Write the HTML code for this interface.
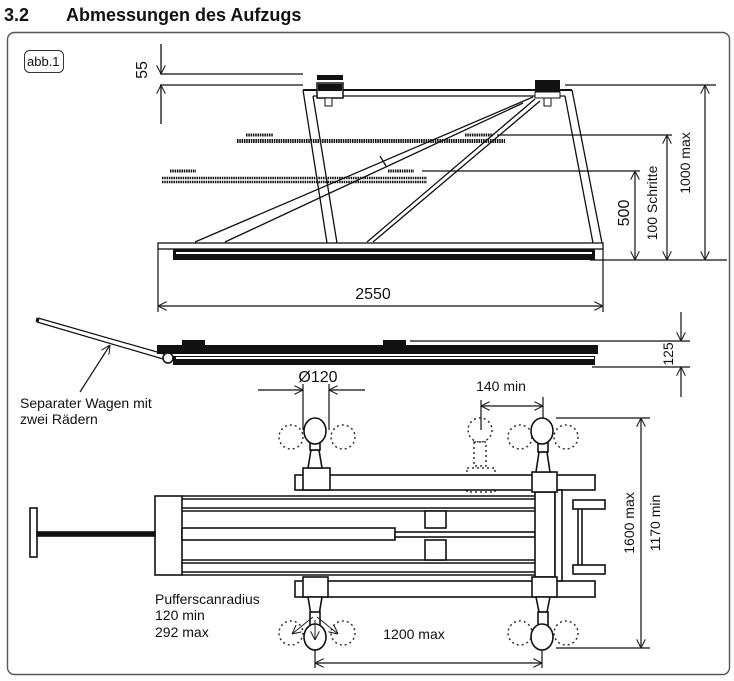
<!DOCTYPE html>
<html><head><meta charset="utf-8"><style>
html,body{margin:0;padding:0;background:#fff;}
svg{display:block;}
text{font-family:"Liberation Sans",Arial,sans-serif;fill:#111;}
</style></head><body>
<svg width="734" height="681" viewBox="0 0 734 681" xmlns="http://www.w3.org/2000/svg">
<defs>
<marker id="a" viewBox="0 0 10 10" refX="10" refY="5" markerWidth="9" markerHeight="9" orient="auto-start-reverse" markerUnits="userSpaceOnUse"><path d="M0,0 L10,5 L0,10" fill="none" stroke="#222" stroke-width="1.2"/></marker>
</defs>
<text x="4" y="21" font-size="18" font-weight="bold">3.2</text>
<text x="66" y="21" font-size="18" font-weight="bold">Abmessungen des Aufzugs</text>
<rect x="7.5" y="32.5" width="722" height="642" rx="7" fill="none" stroke="#555" stroke-width="1.4"/>
<rect x="24.5" y="50.5" width="39" height="22" rx="5" fill="none" stroke="#333"/>
<text x="27" y="66" font-size="13">abb.1</text>

<g stroke="#111" fill="none" stroke-width="1.3">
<line x1="160" y1="74" x2="303" y2="74"/>
<line x1="160" y1="85" x2="303" y2="85"/>
<line x1="161" y1="44" x2="161" y2="74" marker-end="url(#a)"/>
<line x1="161" y1="124" x2="161" y2="85" marker-end="url(#a)"/>
<line x1="303" y1="90" x2="572" y2="90" stroke-width="2"/>
<line x1="313" y1="96" x2="565" y2="96"/>
<line x1="303" y1="90" x2="327" y2="243"/>
<line x1="313" y1="96" x2="337" y2="243"/>
<line x1="572" y1="90" x2="602" y2="243"/>
<line x1="565" y1="96" x2="593" y2="243"/>
<line x1="533" y1="97" x2="195" y2="242"/>
<line x1="523" y1="103" x2="225" y2="242"/>
<line x1="535" y1="99" x2="367" y2="242"/>
<line x1="540" y1="101" x2="373" y2="242"/>
<line x1="380" y1="156" x2="386" y2="166"/>
<rect x="158" y="243" width="445" height="6"/>
</g>
<rect x="173" y="249" width="422" height="11" fill="#111"/>
<rect x="176" y="252" width="416" height="2" fill="#fff"/>
<rect x="317" y="75" width="26" height="5" fill="#111"/>
<rect x="317" y="83" width="26" height="15" fill="#fff" stroke="#111" stroke-width="1.5"/>
<rect x="318" y="84" width="24" height="7" fill="#111"/>
<rect x="325" y="98" width="7" height="8" fill="#fff" stroke="#111"/>
<rect x="535" y="80" width="25" height="12" fill="#111"/>
<rect x="535" y="92" width="25" height="6" fill="#fff" stroke="#111"/>
<rect x="544" y="98" width="7" height="8" fill="#fff" stroke="#111"/>
<g stroke="#111" stroke-dasharray="1.5 0.8" fill="none">
<line x1="237" y1="141" x2="505" y2="141" stroke-width="4"/>
<line x1="246" y1="135" x2="273" y2="135" stroke-width="3"/>
<line x1="465" y1="135" x2="493" y2="135" stroke-width="3"/>
<line x1="162" y1="178" x2="427" y2="178" stroke-width="2.5"/>
<line x1="162" y1="182" x2="427" y2="182" stroke-width="2.5"/>
<line x1="170" y1="171" x2="196" y2="171" stroke-width="3"/>
<line x1="388" y1="171" x2="414" y2="171" stroke-width="3"/>
</g>
<g stroke="#111" fill="none" stroke-width="1.2">
<line x1="497" y1="135" x2="672" y2="135"/>
<line x1="422" y1="171" x2="640" y2="171"/>
<line x1="565" y1="85" x2="716" y2="85"/>
<line x1="590" y1="260" x2="727" y2="260"/>
<line x1="635" y1="171" x2="635" y2="260" marker-start="url(#a)" marker-end="url(#a)"/>
<line x1="667" y1="135" x2="667" y2="260" marker-start="url(#a)" marker-end="url(#a)"/>
<line x1="705" y1="85" x2="705" y2="260" marker-start="url(#a)" marker-end="url(#a)"/>
<line x1="158" y1="249" x2="158" y2="312"/>
<line x1="603" y1="249" x2="603" y2="312"/>
<line x1="158" y1="306" x2="603" y2="306" marker-start="url(#a)" marker-end="url(#a)"/>
</g>
<text transform="translate(142,70) rotate(-90)" font-size="16" text-anchor="middle" dy="5">55</text>
<text transform="translate(624,213) rotate(-90)" font-size="16" text-anchor="middle" dy="5">500</text>
<text transform="translate(652,203) rotate(-90)" font-size="14" text-anchor="middle" dy="5">100 Schritte</text>
<text transform="translate(685,163) rotate(-90)" font-size="14" text-anchor="middle" dy="5">1000 max</text>
<text x="373" y="299" font-size="16" text-anchor="middle">2550</text>

<rect x="157" y="345" width="441" height="9" fill="#111"/>
<rect x="173" y="356" width="422" height="9" fill="#111"/>
<rect x="176" y="357" width="418" height="2" fill="#fff"/>
<rect x="182" y="340" width="23" height="6" fill="#111"/>
<rect x="383" y="340" width="23" height="6" fill="#111"/>
<g stroke="#111" fill="none" stroke-width="1.2">
<line x1="38" y1="318" x2="164" y2="354"/>
<line x1="37" y1="322" x2="163" y2="359"/>
<line x1="38" y1="318" x2="37" y2="322" stroke-width="3"/>
<circle cx="168" cy="358" r="5" fill="#fff" stroke-width="1.5"/>
<line x1="80" y1="392" x2="110" y2="345" marker-end="url(#a)"/>
<line x1="410" y1="341" x2="690" y2="341"/>
<line x1="592" y1="367" x2="690" y2="367"/>
<line x1="681" y1="312" x2="681" y2="341" marker-end="url(#a)"/>
<line x1="681" y1="397" x2="681" y2="367" marker-end="url(#a)"/>
</g>
<text transform="translate(668,354) rotate(-90)" font-size="14" text-anchor="middle" dy="5">125</text>
<text x="20" y="408" font-size="14">Separater Wagen mit</text>
<text x="20" y="424" font-size="14">zwei Rädern</text>

<text x="318" y="382" font-size="16" text-anchor="middle">Ø120</text>
<text x="501" y="391" font-size="14" text-anchor="middle">140 min</text>
<g stroke="#111" fill="none" stroke-width="1.2">
<line x1="258" y1="390" x2="303" y2="390" marker-end="url(#a)"/>
<line x1="365" y1="390" x2="329" y2="390" marker-end="url(#a)"/>
<line x1="303" y1="384" x2="303" y2="430"/>
<line x1="329" y1="384" x2="329" y2="430"/>
<line x1="481" y1="400" x2="481" y2="430"/>
<line x1="543" y1="397" x2="543" y2="420"/>
<line x1="481" y1="406" x2="543" y2="406" marker-start="url(#a)" marker-end="url(#a)"/>
<line x1="556" y1="418" x2="650" y2="418"/>
<line x1="556" y1="648" x2="650" y2="648"/>
<line x1="641" y1="418" x2="641" y2="648" marker-start="url(#a)" marker-end="url(#a)"/>
<line x1="315" y1="650" x2="315" y2="668"/>
<line x1="542" y1="650" x2="542" y2="668"/>
<line x1="315" y1="663" x2="542" y2="663" marker-start="url(#a)" marker-end="url(#a)"/>
</g>
<g stroke="#333" fill="none" stroke-width="1.5" stroke-dasharray="2 3">
<circle cx="291" cy="437" r="12"/><circle cx="343" cy="437" r="12"/>
<circle cx="520" cy="437" r="12"/><circle cx="566" cy="437" r="12"/>
<circle cx="480" cy="430" r="12"/>
<circle cx="291" cy="633" r="12"/><circle cx="343" cy="633" r="12"/>
<circle cx="520" cy="633" r="12"/><circle cx="566" cy="633" r="12"/>
<rect x="474" y="442" width="12" height="24"/>
<rect x="467" y="468" width="28" height="24"/>
</g>
<g stroke="#111" fill="#fff" stroke-width="1.6">
<rect x="295" y="475" width="300" height="15"/>
<rect x="295" y="581" width="300" height="16"/>
<rect x="155" y="496" width="27" height="79"/>
<line x1="182" y1="496" x2="535" y2="496"/>
<line x1="182" y1="499" x2="535" y2="499"/>
<line x1="182" y1="508" x2="535" y2="508"/>
<line x1="182" y1="511" x2="535" y2="511"/>
<rect x="182" y="528" width="213" height="12"/>
<rect x="395" y="532" width="140" height="5"/>
<line x1="182" y1="560" x2="535" y2="560"/>
<line x1="182" y1="563" x2="535" y2="563"/>
<line x1="182" y1="572" x2="535" y2="572"/>
<line x1="182" y1="575" x2="535" y2="575"/>
<rect x="425" y="511" width="21" height="17"/>
<rect x="425" y="540" width="21" height="20"/>
<rect x="30" y="508" width="7" height="49"/>
<rect x="37" y="532" width="118" height="4" fill="#111"/>
<rect x="535" y="492" width="20" height="85"/>
<rect x="555" y="490" width="7" height="91"/>
<rect x="578" y="505" width="4" height="64"/>
<rect x="573" y="500" width="32" height="9"/>
<rect x="573" y="565" width="32" height="9"/>
<rect x="303" y="468" width="27" height="22"/>
<rect x="532" y="472" width="25" height="20"/>
<rect x="303" y="577" width="25" height="20"/>
<rect x="532" y="577" width="25" height="20"/>
<path d="M308,468 L311,450 L319,450 L322,468 Z"/>
<rect x="310" y="440" width="10" height="10"/>
<path d="M536,472 L539,452 L547,452 L550,472 Z"/>
<rect x="538" y="440" width="10" height="12"/>
<path d="M308,597 L311,615 L319,615 L322,597 Z"/>
<rect x="310" y="612" width="10" height="14"/>
<path d="M536,597 L539,612 L547,612 L550,597 Z"/>
<rect x="538" y="612" width="10" height="14"/>
<ellipse cx="315" cy="431" rx="11" ry="13"/>
<ellipse cx="542" cy="431" rx="11" ry="13"/>
<ellipse cx="315" cy="637" rx="11" ry="13"/>
<ellipse cx="542" cy="637" rx="11" ry="13"/>
</g>
<g stroke="#222" fill="none" stroke-width="1" marker-end="url(#a)">
<line x1="313" y1="617" x2="292" y2="634"/>
<line x1="317" y1="617" x2="338" y2="634"/>
<line x1="315" y1="620" x2="315" y2="640"/>
</g>
<text x="155" y="604" font-size="14">Pufferscanradius</text>
<text x="155" y="620" font-size="14">120 min</text>
<text x="155" y="637" font-size="14">292 max</text>
<text x="414" y="639" font-size="14" text-anchor="middle">1200 max</text>
<text transform="translate(629,523) rotate(-90)" font-size="14" text-anchor="middle" dy="5">1600 max</text>
<text transform="translate(655,523) rotate(-90)" font-size="14" text-anchor="middle" dy="5">1170 min</text>
</svg>
</body></html>
